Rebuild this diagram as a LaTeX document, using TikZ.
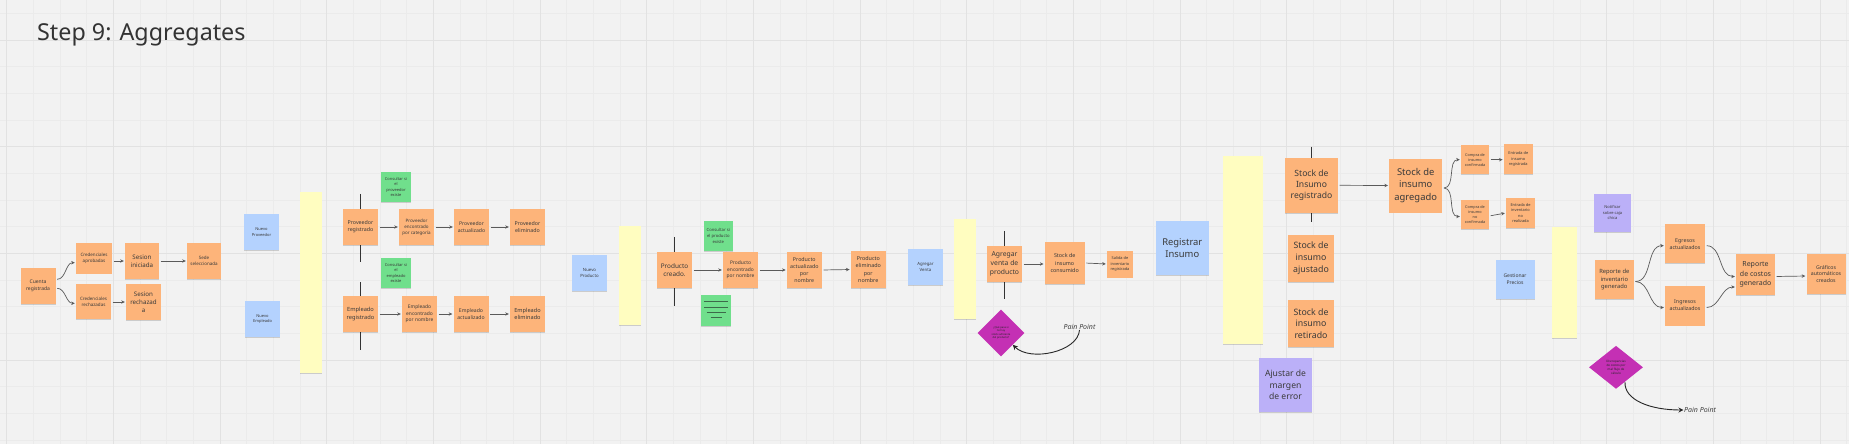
\documentclass[tikz,border=0pt]{standalone}
\usepackage{fontspec}
\setmainfont{Noto Sans}
\usetikzlibrary{arrows.meta,shapes.geometric,shadows,calc}
\definecolor{bg}{HTML}{F2F2F2}
\definecolor{gminor}{HTML}{EBEBEB}
\definecolor{gmajor}{HTML}{E2E2E2}
\definecolor{sorange}{HTML}{FDB47A}
\definecolor{sblue}{HTML}{B4D2FE}
\definecolor{syellow}{HTML}{FFFDC0}
\definecolor{sgreen}{HTML}{70DF8C}
\definecolor{spurple}{HTML}{BBB0F8}
\definecolor{smagenta}{HTML}{C430B4}
\definecolor{txt}{HTML}{3A3A3A}
\definecolor{arrc}{HTML}{5A5A5A}
\definecolor{vl}{HTML}{333333}
\definecolor{gline}{HTML}{3C6A4A}
\newcommand\fz[1]{\fontsize{#1}{\fpeval{1.33*#1}}\selectfont}
\pgfdeclarelayer{bgl}
\pgfdeclarelayer{lines}
\pgfsetlayers{bgl,lines,main}
\tikzset{
  note/.style={rectangle, inner sep=0.5pt, align=center, text=txt,
    drop shadow={shadow xshift=0pt, shadow yshift=-0.8pt, opacity=0.16, fill=black}},
  ornote/.style={note, fill=sorange},
  blnote/.style={note, fill=sblue},
  ylnote/.style={note, fill=syellow},
  grnote/.style={note, fill=sgreen},
  prnote/.style={note, fill=spurple},
  sz/.style n args={2}{minimum width=#1pt, minimum height=#2pt},
  fs/.style={font=\fz{#1}},
  arr/.style={draw=arrc, line width=0.7pt, -{Stealth[length=3.6pt,width=3.4pt]}, shorten <=1.5pt, shorten >=1pt},
  vline/.style={draw=vl, line width=1.1pt},
  pain/.style={draw=black!85, line width=0.9pt, -{Stealth[length=5pt,width=5pt]}},
  dia/.style={diamond, fill=smagenta, inner sep=0pt, align=center, text=black!85},
  painlbl/.style={inner sep=0.5pt, text=black!75, font=\fz{7}\itshape},
}
\begin{document}
\begin{tikzpicture}[x=1pt,y=-1pt]
\useasboundingbox (0,0) rectangle (1849,444);
\begin{pgfonlayer}{bgl}
\fill[bg] (0,0) rectangle (1849,444);
\foreach \i in {0,...,69} \draw[gminor, line width=0.5pt] ({6.667+26.667*\i},0) -- ({6.667+26.667*\i},444);
\foreach \j in {0,...,16} \draw[gminor, line width=0.5pt] (0,{13.333+26.667*\j}) -- (1849,{13.333+26.667*\j});
\foreach \i in {0,...,17} \draw[gmajor, line width=0.7pt] ({6.667+106.667*\i},0) -- ({6.667+106.667*\i},444);
\foreach \j in {0,...,3} \draw[gmajor, line width=0.7pt] (0,{40+106.667*\j}) -- (1849,{40+106.667*\j});
\end{pgfonlayer}

\node[anchor=base west, inner sep=0pt, text=black!80, font=\fontsize{23.3}{28}\selectfont] (title) at (37,40.7) {Step 9: Aggregates};

% ---- cluster 1
\node[ornote, sz={35}{36}, fs=5] (cr) at (38,286) {Cuenta\\registrada};
\node[ornote, sz={36}{31}, fs=4.5] (ca) at (94,258) {Credenciales\\aprobadas};
\node[ornote, sz={35}{35}, fs=4.5] (crr) at (93.5,301.5) {Credenciales\\rechazadas};
\node[ornote, sz={34}{36}, fs=6.2] (si) at (142,261) {Sesion\\iniciada};
\node[ornote, sz={35}{36}, fs=6.2] (sr) at (143.5,302) {Sesion\\rechazad\\a};
\node[ornote, sz={34}{36}, fs=4.5] (ss) at (204,261) {Sede\\seleccionada};
\node[blnote, sz={35}{36}, fs=4] (np) at (261.5,232) {Nuevo\\Proveedor};
\node[blnote, sz={35}{36}, fs=4] (ne) at (262.5,319) {Nuevo\\Empleado};

% ---- cluster 2
\node[ylnote, sz={22}{181}] (y1) at (311,282.5) {};
\node[ornote, sz={35}{36}, fs=5.3] (pr) at (360.5,227) {Proveedor\\registrado};
\node[grnote, sz={30}{30}, fs=4] (g1) at (396,187) {Consultar si\\el\\proveedor\\existe};
\node[ornote, sz={35}{36}, fs=4.5] (pe) at (416.5,227) {Proveedor\\encontrado\\por categoría};
\node[ornote, sz={35}{36}, fs=5.1] (pa) at (471.5,227) {Proveedor\\actualizado};
\node[ornote, sz={35}{36}, fs=5.3] (pel) at (527.5,227) {Proveedor\\eliminado};
\node[grnote, sz={30}{30}, fs=4] (g2) at (396,273) {Consultar si\\el\\empleado\\existe};
\node[ornote, sz={35}{36}, fs=5.7] (er) at (360.5,314) {Empleado\\registrado};
\node[ornote, sz={35}{36}, fs=4.9] (ee) at (419.5,314) {Empleado\\encontrado\\por nombre};
\node[ornote, sz={35}{36}, fs=5.1] (ea) at (471,314) {Empleado\\actualizado};
\node[ornote, sz={35}{36}, fs=5.6] (eel) at (527.5,314) {Empleado\\eliminado};

% ---- cluster 3
\node[blnote, sz={35}{36}, fs=4.3] (nprod) at (589.5,273) {Nuevo\\Producto};
\node[ylnote, sz={22}{99}] (y2) at (629.7,275.3) {};
\node[ornote, sz={35}{36}, fs=6.4] (pc) at (674.5,270) {Producto\\creado.};
\node[grnote, sz={29}{30}, fs=4.2] (g3) at (718.3,236) {Consultar si\\el producto\\existe};
\node[grnote, sz={30}{31}] (g4) at (716,310.5) {};
\node[ornote, sz={35}{36}, fs=4.9] (pen) at (740.5,270) {Producto\\encontrado\\por nombre};
\node[ornote, sz={35}{36}, fs=5.3] (pac) at (804.3,270) {Producto\\actualizado\\por\\nombre};
\node[ornote, sz={35}{37}, fs=5.4] (pdl) at (868.3,269.5) {Producto\\eliminado\\por\\nombre};
\draw[gline, line width=1.2pt] ($(g4.center)+(-12,-8.8)$) -- ++(23.7,0);
\draw[gline, line width=1pt] ($(g4.center)+(-12,-3.2)$) -- ++(23.7,0);
\draw[gline, line width=1pt] ($(g4.center)+(-9.3,1.8)$) -- ++(19,0);
\draw[gline, line width=1pt] ($(g4.center)+(-5.3,6.8)$) -- ++(11,0);

% ---- cluster 4
\node[blnote, sz={35}{36}, fs=4.3] (aven) at (925.5,267) {Agregar\\Venta};
\node[ylnote, sz={22}{100}] (y3) at (965.3,269) {};
\node[ornote, sz={35}{36}, fs=6.8] (avp) at (1004.5,264) {Agregar\\venta de\\producto};
\node[ornote, sz={40}{42}, fs=5.4] (sc) at (1064.7,263) {Stock de\\insumo\\consumido};
\node[ornote, sz={26}{27}, fs=3.9] (sal) at (1120,264) {Salida de\\inventario\\registrada};
\node[dia, minimum width=47pt, minimum height=47pt, font=\fz{2.6}] (d1) at (1001,333) {¿Qué pasa si\\no hay\\stock suficiente\\del producto?};
\node[painlbl] (pp1) at (1079.5,326.7) {Pain Point};

% ---- cluster 5
\node[blnote, sz={53}{54}, fs=9.4] (ri) at (1182.3,248) {Registrar\\Insumo};
\node[ylnote, sz={40}{188}] (y4) at (1243,249.7) {};
\node[ornote, sz={53}{55}, fs=8.6] (sreg) at (1311.5,185.3) {Stock de\\Insumo\\registrado};
\node[ornote, sz={46}{47}, fs=8.8] (saj) at (1311,258.3) {Stock de\\insumo\\ajustado};
\node[ornote, sz={46}{47}, fs=8.8] (sret) at (1311,323.5) {Stock de\\insumo\\retirado};
\node[prnote, sz={53}{54}, fs=8.6] (amr) at (1285.5,384.8) {Ajustar de\\margen\\de error};
\node[ornote, sz={53}{54}, fs=9.4] (sag) at (1415.7,185.5) {Stock de\\insumo\\agregado};
\node[ornote, sz={28}{29}, fs=3.8] (cc) at (1475,159.7) {Compra de\\insumo\\confirmada};
\node[ornote, sz={29}{30}, fs=3.9] (eir) at (1518.3,159) {Entrada de\\insumo\\registrada};
\node[ornote, sz={28}{29}, fs=3.8] (cnc) at (1475,214.5) {Compra de\\insumo\\no\\confirmada};
\node[ornote, sz={29}{30}, fs=3.9] (einr) at (1520.5,213) {Entrada de\\inventario\\no\\realizada};

% ---- cluster 6
\node[prnote, sz={37}{38}, fs=4] (ncc) at (1612.5,212.8) {Notificar\\sobre caja\\chica};
\node[blnote, sz={39}{39}, fs=5] (gp) at (1515,279.5) {Gestionar\\Precios};
\node[ylnote, sz={25}{111}] (y5) at (1564.5,282.7) {};
\node[ornote, sz={39}{39}, fs=5.8] (rig) at (1614.3,279.5) {Reporte de\\inventario\\generado};
\node[ornote, sz={40}{39}, fs=5.3] (egr) at (1685,243.7) {Egresos\\actualizados};
\node[ornote, sz={40}{40}, fs=5.3] (ing) at (1685,305.5) {Ingresos\\actualizados};
\node[ornote, sz={39}{41}, fs=7] (rcg) at (1755.5,274.5) {Reporte\\de costos\\generado};
\node[ornote, sz={39}{40}, fs=5.2] (gac) at (1826,274) {Gráficos\\automáticos\\creados};
\node[dia, minimum width=54pt, minimum height=43pt, font=\fz{3}] (d2) at (1616,367.3) {Discrepancias\\de costos por\\mal flujo de\\cálculo};
\node[painlbl] (pp2) at (1700,410) {Pain Point};

% ---- aggregate marker lines (behind notes)
\begin{pgfonlayer}{lines}
\draw[vline] ([yshift=15pt]pr.north) -- ([yshift=-17pt]pr.south);
\draw[vline] ([yshift=14pt]er.north) -- ([yshift=-18pt]er.south);
\draw[vline] ([yshift=15pt]pc.north) -- ([yshift=-18pt]pc.south);
\draw[vline] ([yshift=15pt]avp.north) -- ([yshift=-17pt]avp.south);
\draw[vline] ([yshift=11pt]sreg.north) -- ([yshift=-9pt]sreg.south);
\end{pgfonlayer}

% ---- connectors
\draw[arr] ([yshift=6.7pt]cr.east) to[out=0,in=180] ([yshift=-4.7pt]ca.west);
\draw[arr] ([yshift=-2.3pt]cr.east) to[out=0,in=180] ([yshift=-1.8pt]crr.west);
\draw[arr] (ca.east |- si.west) -- (si.west);
\draw[arr] (crr.east |- sr.west) -- (sr.west);
\draw[arr] (si.east) -- (ss.west);

\draw[arr] (pr.east) -- (pe.west);
\draw[arr] (pe.east) -- (pa.west);
\draw[arr] (pa.east) -- (pel.west);
\draw[arr] (er.east) -- (ee.west);
\draw[arr] (ee.east) -- (ea.west);
\draw[arr] (ea.east) -- (eel.west);

\draw[arr] (pc.east) -- (pen.west);
\draw[arr] (pen.east) -- (pac.west);
\draw[arr] (pac.east) -- (pdl.west);

\draw[arr] (avp.east) -- (sc.west |- avp.east);
\draw[arr] (sc.east) -- (sal.west);
\draw[pain] (pp1.south) .. controls (1078,352) and (1030,362) .. (d1.south east);

\draw[arr] (sreg.east) -- (sag.west);
\draw[arr] ([yshift=-2.5pt]sag.east) to[out=0,in=180] (cc.west);
\draw[arr] ([yshift=-2.5pt]sag.east) to[out=0,in=180] ([yshift=-2pt]cnc.west);
\draw[arr] (cc.east) -- (eir.west |- cc.east);
\draw[arr] ([yshift=-1.5pt]cnc.east) -- (einr.west);

\draw[arr] ([yshift=-2pt]rig.east) to[out=0,in=180] ([yshift=-2pt]egr.west);
\draw[arr] ([yshift=-2pt]rig.east) to[out=0,in=180] ([yshift=-2pt]ing.west);
\draw[arr] ([yshift=-2pt]egr.east) to[out=0,in=180] ([yshift=-2pt]rcg.west);
\draw[arr] ([yshift=-2pt]ing.east) to[out=0,in=180] ([yshift=-12.5pt]rcg.west);
\draw[arr] ([yshift=-2pt]rcg.east) -- ([yshift=-2pt]gac.west);
\draw[pain] ($(d2.south)!0.33!(d2.east)$) .. controls (1624,400) and (1650,410) .. (pp2.west);
\end{tikzpicture}
\end{document}
